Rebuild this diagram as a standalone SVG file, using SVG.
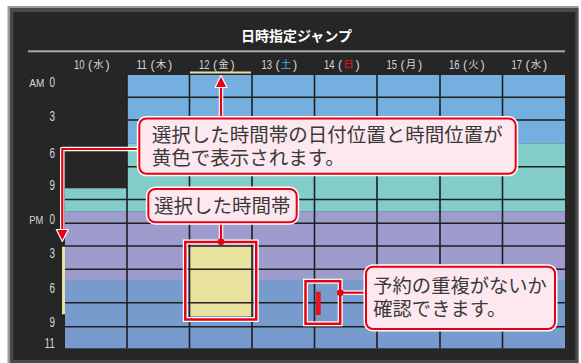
<svg xmlns="http://www.w3.org/2000/svg" width="581" height="363" viewBox="0 0 581 363">
<style>
.lbl{font-family:"Liberation Sans","Noto Sans CJK JP",sans-serif;fill:#d6d6d6;}
.hd{font-family:"Liberation Sans",sans-serif;font-size:13px;fill:#d6d6d6;}
.hp{font-family:"Liberation Sans",sans-serif;font-size:12.5px;fill:#d6d6d6;}
.hk{font-family:"Noto Sans CJK JP",sans-serif;font-size:10.5px;fill:#d6d6d6;}
.cap{font-family:"Liberation Sans","Noto Sans CJK JP",sans-serif;font-size:19.5px;fill:#3a3a3a;}
.gl{stroke:#1f1f1f;stroke-width:1.6;fill:none;}
.box-w{fill:none;stroke:#ffffff;stroke-width:5;}
.box-r{fill:none;stroke:#e60012;stroke-width:2.5;}
.co-w{fill:none;stroke:#ffffff;stroke-width:4.5;stroke-linejoin:round;}
.co-r{fill:none;stroke:#e60012;stroke-width:2.2;}
.bub{fill:#fde8f0;stroke:#e60012;stroke-width:2;}
.bub-w{fill:none;stroke:#ffffff;stroke-width:5;}
.dot{fill:#e60012;}
</style>
<defs>
<marker id="arr" viewBox="-1 -7 14 14" refX="0" refY="0" markerWidth="14" markerHeight="14" markerUnits="userSpaceOnUse" orient="auto">
<path d="M0,-6 L12,0 L0,6 Z" fill="#e60012" stroke="#ffffff" stroke-width="1.2" stroke-linejoin="round"/>
</marker>
</defs>
<rect x="0" y="0" width="581" height="363" fill="#ffffff"/>
<g id="frame">
<rect x="7.5" y="6" width="571" height="360" fill="#9a9a9a"/>
<rect x="10" y="8" width="568.5" height="358" fill="#4a4a4a"/>
<rect x="13.3" y="12" width="562" height="348" fill="#262626"/>
</g>
<g id="title">
<text x="296.5" y="41" text-anchor="middle" font-family="Noto Sans CJK JP, sans-serif" font-size="14" font-weight="bold" fill="#ffffff">日時指定ジャンプ</text>
<rect x="28" y="50.3" width="537" height="2" fill="#a8a8a8"/>
</g>
<g id="headers">
<g id="h10"><text class="hd" x="74" y="68.5" textLength="10.5" lengthAdjust="spacingAndGlyphs">10</text><text class="hp" x="88" y="68.5">(</text><text class="hk" x="93.3" y="68">水</text><text class="hp" x="105.5" y="68.5">)</text></g>
<g id="h11"><text class="hd" x="136.5" y="68.5" textLength="10.5" lengthAdjust="spacingAndGlyphs">11</text><text class="hp" x="150.5" y="68.5">(</text><text class="hk" x="155.8" y="68">木</text><text class="hp" x="168" y="68.5">)</text></g>
<g id="h12"><text class="hd" x="199" y="68.5" textLength="10.5" lengthAdjust="spacingAndGlyphs">12</text><text class="hp" x="213" y="68.5">(</text><text class="hk" x="218.3" y="68">金</text><text class="hp" x="230.5" y="68.5">)</text></g>
<g id="h13"><text class="hd" x="261.5" y="68.5" textLength="10.5" lengthAdjust="spacingAndGlyphs">13</text><text class="hp" x="275.5" y="68.5">(</text><text class="hk" x="280.8" y="68" style="fill:#3fb6e8">土</text><text class="hp" x="293" y="68.5">)</text></g>
<g id="h14"><text class="hd" x="324" y="68.5" textLength="10.5" lengthAdjust="spacingAndGlyphs">14</text><text class="hp" x="338" y="68.5">(</text><text class="hk" x="343.3" y="68" style="fill:#e8141e">日</text><text class="hp" x="355.5" y="68.5">)</text></g>
<g id="h15"><text class="hd" x="386.5" y="68.5" textLength="10.5" lengthAdjust="spacingAndGlyphs">15</text><text class="hp" x="400.5" y="68.5">(</text><text class="hk" x="405.8" y="68">月</text><text class="hp" x="418" y="68.5">)</text></g>
<g id="h16"><text class="hd" x="449" y="68.5" textLength="10.5" lengthAdjust="spacingAndGlyphs">16</text><text class="hp" x="463" y="68.5">(</text><text class="hk" x="468.3" y="68">火</text><text class="hp" x="480.5" y="68.5">)</text></g>
<g id="h17"><text class="hd" x="511.5" y="68.5" textLength="10.5" lengthAdjust="spacingAndGlyphs">17</text><text class="hp" x="525.5" y="68.5">(</text><text class="hk" x="530.8" y="68">水</text><text class="hp" x="543" y="68.5">)</text></g>
<rect x="190" y="71.5" width="61" height="2" fill="#e8e0a0"/>
</g>
<g id="rowlabels">
<text class="lbl" x="29.3" y="87" font-size="10" textLength="15" lengthAdjust="spacingAndGlyphs">AM</text>
<text class="lbl" x="55" y="87" font-size="14" text-anchor="end" textLength="5.5" lengthAdjust="spacingAndGlyphs">0</text>
<text class="lbl" x="55" y="121" font-size="14" text-anchor="end" textLength="5.5" lengthAdjust="spacingAndGlyphs">3</text>
<text class="lbl" x="55" y="157.5" font-size="14" text-anchor="end" textLength="5.5" lengthAdjust="spacingAndGlyphs">6</text>
<text class="lbl" x="55" y="190" font-size="14" text-anchor="end" textLength="5.5" lengthAdjust="spacingAndGlyphs">9</text>
<text class="lbl" x="29.3" y="224" font-size="10" textLength="14" lengthAdjust="spacingAndGlyphs">PM</text>
<text class="lbl" x="55" y="224" font-size="14" text-anchor="end" textLength="5.5" lengthAdjust="spacingAndGlyphs">0</text>
<text class="lbl" x="55" y="258.3" font-size="14" text-anchor="end" textLength="5.5" lengthAdjust="spacingAndGlyphs">3</text>
<text class="lbl" x="55" y="292.5" font-size="14" text-anchor="end" textLength="5.5" lengthAdjust="spacingAndGlyphs">6</text>
<text class="lbl" x="55" y="326.5" font-size="14" text-anchor="end" textLength="5.5" lengthAdjust="spacingAndGlyphs">9</text>
<text class="lbl" x="55" y="348.3" font-size="14" text-anchor="end" textLength="10.5" lengthAdjust="spacingAndGlyphs">11</text>
</g>
<g id="grid">
<rect x="127" y="75" width="438" height="68.3" fill="#74afdf"/>
<rect x="127" y="143.3" width="438" height="68.4" fill="#82ccc9"/>
<rect x="65" y="188.3" width="62" height="23.4" fill="#82ccc9"/>
<rect x="65" y="211.7" width="500" height="68.3" fill="#9e9ccc"/>
<rect x="65" y="280" width="500" height="68.3" fill="#789bce"/>
<rect id="selected-slot" x="189.5" y="246" width="62.5" height="70" fill="#e9e29f"/>
<rect x="62" y="246.7" width="3" height="67.6" fill="#e9e29f"/>
<path class="gl" d="M127,97.3H565M127,120H565M127,166.7H565M65,199.5H565M65,223.3H565M65,246H565M65,269.3H565M65,302.7H565M65,326.7H565"/>
<path class="gl" d="M127,75V348.3M189.5,75V348.3M252,75V348.3M314.5,75V348.3M377,75V348.3M440,75V348.3M502.5,75V348.3"/>
</g>
<g id="highlights">
<rect class="box-w" x="185.3" y="242" width="70.9" height="77.5"/>
<rect class="box-r" x="185.3" y="242" width="70.9" height="77.5"/>
<rect class="box-w" x="305.5" y="281.2" width="34.7" height="42.6"/>
<rect class="box-r" x="305.5" y="281.2" width="34.7" height="42.6"/>
<rect x="316" y="291.7" width="4.7" height="23.3" fill="#e8141e"/>
</g>
<g id="connectors">
<path class="co-w" d="M221,118.5V87"/>
<path class="co-r" d="M221,118.5V87.5" marker-end="url(#arr)"/>
<path class="co-w" d="M139.5,149H62.3V230"/>
<path class="co-r" d="M139.5,149H62.3V229.5" marker-end="url(#arr)"/>
<path class="co-w" d="M221,242V222.5"/>
<path class="co-r" d="M221,242V222.5"/>
<path class="co-w" d="M340.3,292.7H366"/>
<path class="co-r" d="M340.3,292.7H366"/>
<circle class="dot" cx="221" cy="241.8" r="3.3"/>
<circle class="dot" cx="340.3" cy="292.7" r="3.3"/>
</g>
<g id="callout-date-time">
<rect class="bub-w" x="139.3" y="118.5" width="376.4" height="55.3" rx="7"/>
<rect class="bub" x="139.3" y="118.5" width="376.4" height="55.3" rx="7"/>
<text class="cap" x="151.7" y="141.5">選択した時間帯の日付位置と時間位置が</text>
<text class="cap" x="151.7" y="165.3">黄色で表示されます。</text>
</g>
<g id="callout-selected">
<rect class="bub-w" x="148.3" y="189" width="148.4" height="33.3" rx="7"/>
<rect class="bub" x="148.3" y="189" width="148.4" height="33.3" rx="7"/>
<text class="cap" x="154" y="213">選択した時間帯</text>
</g>
<g id="callout-overlap">
<rect class="bub-w" x="366" y="266.7" width="189" height="62.3" rx="7"/>
<rect class="bub" x="366" y="266.7" width="189" height="62.3" rx="7"/>
<text class="cap" x="373.3" y="292.5" style="font-size:19.3px">予約の重複がないか</text>
<text class="cap" x="373.3" y="315.5" style="font-size:19.3px">確認できます。</text>
</g>
</svg>
